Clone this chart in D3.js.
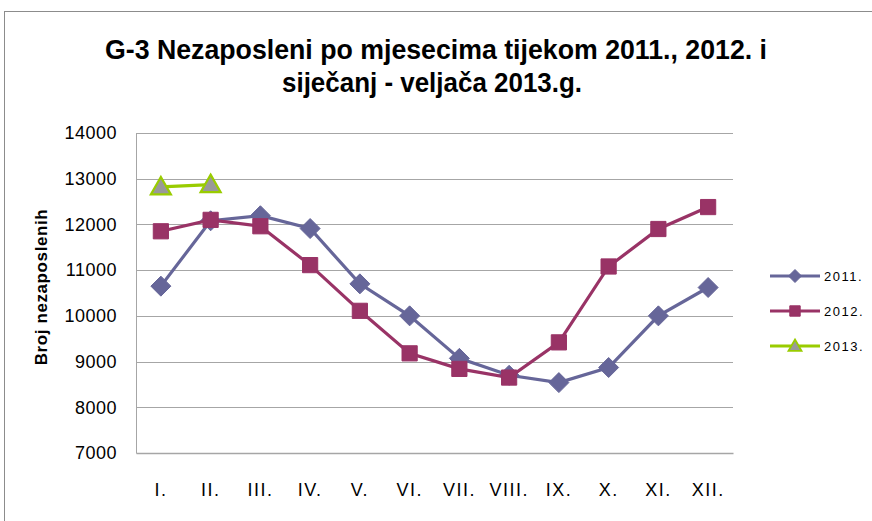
<!DOCTYPE html>
<html>
<head>
<meta charset="utf-8">
<script src="https://cdn.jsdelivr.net/npm/d3@7"></script>
<style>
  body { margin: 0; background: #fff; }
  svg { display: block; }
</style>
</head>
<body>
<svg class="chart"></svg>
<script>
const width = 872, height = 521;

const months = ["I.", "II.", "III.", "IV.", "V.", "VI.", "VII.", "VIII.", "IX.", "X.", "XI.", "XII."];
const yTicks = [7000, 8000, 9000, 10000, 11000, 12000, 13000, 14000];
const v2011 = [10650, 12080, 12190, 11910, 10700, 10000, 9070, 8700, 8540, 8870, 10000, 10620];
const v2012 = [11850, 12100, 11960, 11110, 10110, 9180, 8840, 8650, 9420, 11080, 11900, 12380];
const v2013 = [12820, 12870];

const series = [
  { name: "2011.", values: v2011, color: "#666699", marker: "diamond" },
  { name: "2012.", values: v2012, color: "#993366", marker: "square" },
  { name: "2013.", values: v2013, color: "#99cc00", marker: "triangle" }
];

const plot = { left: 136, right: 733, top: 133, bottom: 453 };
const font = "'Liberation Sans', Arial, sans-serif";

const x = d3.scaleBand()
  .domain(months)
  .range([plot.left, plot.right]);

const y = d3.scaleLinear()
  .domain([7000, 14000])
  .range([plot.bottom, plot.top]);

const svg = d3.select(".chart")
  .attr("width", width)
  .attr("height", height);

// outer frame
svg.append("rect")
  .attr("x", 4.5).attr("y", 11.5)
  .attr("width", width + 10).attr("height", height + 10)
  .attr("fill", "none")
  .attr("stroke", "#8c8c8c")
  .attr("stroke-width", 1);

// title (narrow bold font squeezed to fit)
const title = svg.append("g")
  .attr("font-family", font)
  .attr("font-weight", "bold")
  .attr("font-size", 28)
  .attr("fill", "#000");
title.append("text")
  .attr("x", 105).attr("y", 59)
  .attr("textLength", 662)
  .attr("lengthAdjust", "spacingAndGlyphs")
  .text("G-3 Nezaposleni po mjesecima tijekom 2011., 2012. i");
title.append("text")
  .attr("x", 282).attr("y", 92)
  .attr("textLength", 300)
  .attr("lengthAdjust", "spacingAndGlyphs")
  .text("siječanj - veljača 2013.g.");

// gridlines
svg.append("g")
  .selectAll("line")
  .data(yTicks.filter(d => d !== 7000))
  .enter().append("line")
    .attr("x1", plot.left).attr("x2", plot.right)
    .attr("y1", d => Math.round(y(d)) + 0.5)
    .attr("y2", d => Math.round(y(d)) + 0.5)
    .attr("stroke", "#a6a6a6")
    .attr("stroke-width", 1);

// y axis
const yAxis = svg.append("g")
  .attr("transform", `translate(${plot.left},0)`)
  .call(d3.axisLeft(y).tickValues(yTicks).tickSize(0).tickPadding(19).tickFormat(d3.format("d")));
yAxis.select(".domain").attr("stroke", "#a6a6a6");
yAxis.selectAll("text")
  .attr("font-family", font)
  .attr("font-size", 18)
  .attr("letter-spacing", 0.5)
  .attr("fill", "#000");

// x axis
const xAxis = svg.append("g")
  .attr("transform", `translate(0,${plot.bottom})`)
  .call(d3.axisBottom(x).tickSize(0).tickPadding(30));
xAxis.select(".domain").attr("stroke", "#a6a6a6").attr("stroke-width", 1.5);
xAxis.selectAll("text")
  .attr("font-family", font)
  .attr("font-size", 18)
  .attr("letter-spacing", 1.5)
  .attr("fill", "#000");

// y axis label
svg.append("text")
  .attr("transform", `translate(41,287) rotate(-90)`)
  .attr("text-anchor", "middle")
  .attr("dy", "0.35em")
  .attr("font-family", font)
  .attr("font-weight", "bold")
  .attr("font-size", 17)
  .attr("letter-spacing", 0.6)
  .text("Broj nezaposlenih");

const cx = (d, i) => x(months[i]) + x.bandwidth() / 2;

const symbolPath = (type, s) => {
  if (type === "diamond") return `M0,${-s}L${s},0L0,${s}L${-s},0Z`;
  if (type === "square") return `M${-s * 0.8},${-s * 0.8}h${s * 1.6}v${s * 1.6}h${-s * 1.6}Z`;
  return `M0,${-s}L${s},${s * 0.75}L${-s},${s * 0.75}Z`;
};

const line = d3.line()
  .x(cx)
  .y(d => y(d));

const seriesG = svg.append("g")
  .selectAll("g")
  .data(series)
  .enter().append("g");

seriesG.append("path")
  .attr("d", d => line(d.values))
  .attr("fill", "none")
  .attr("stroke", d => d.color)
  .attr("stroke-width", 3.2);

seriesG.each(function(s) {
  d3.select(this).selectAll(".pt")
    .data(s.values)
    .enter().append("path")
      .attr("class", "pt")
      .attr("transform", (d, i) => `translate(${cx(d, i)},${y(d)})`)
      .attr("d", symbolPath(s.marker, s.marker === "square" ? 9.5 : 10))
      .attr("fill", s.marker === "triangle" ? "#999999" : s.color)
      .attr("stroke", s.color)
      .attr("stroke-width", s.marker === "triangle" ? 2.2 : 1);
});

// legend
const legend = svg.append("g")
  .selectAll("g")
  .data(series)
  .enter().append("g")
    .attr("transform", (d, i) => `translate(770,${276 + i * 35})`);

legend.append("line")
  .attr("x1", 0).attr("x2", 50)
  .attr("stroke", d => d.color)
  .attr("stroke-width", 3);

legend.append("path")
  .attr("transform", "translate(25,0)")
  .attr("d", d => symbolPath(d.marker, 6.5))
  .attr("fill", d => d.marker === "triangle" ? "#999999" : d.color)
  .attr("stroke", d => d.color)
  .attr("stroke-width", d => d.marker === "triangle" ? 1.8 : 1);

legend.append("text")
  .attr("x", 54)
  .attr("dy", "0.35em")
  .attr("font-family", font)
  .attr("font-size", 13)
  .attr("letter-spacing", 1.5)
  .text(d => d.name);
</script>
</body>
</html>
